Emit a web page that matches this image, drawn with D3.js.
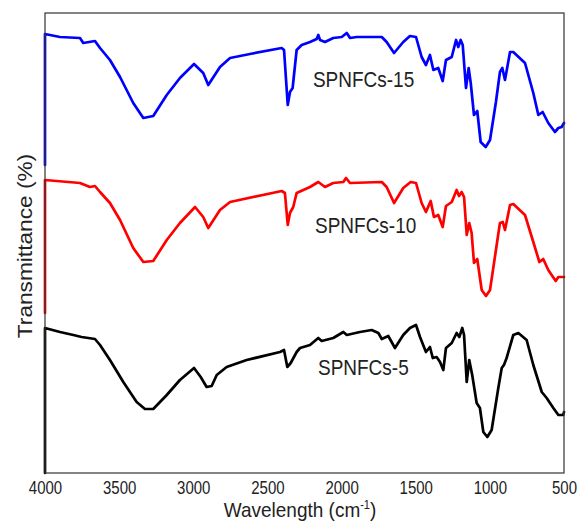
<!DOCTYPE html>
<html>
<head>
<meta charset="utf-8">
<script src="https://cdn.jsdelivr.net/npm/d3@7"></script>
<style>
  html, body { margin: 0; padding: 0; background: #fff; }
  svg { display: block; }
  text { font-family: Arial, "Liberation Sans", sans-serif; fill: #222; }
</style>
</head>
<body>
<svg id="chart" width="584" height="521"></svg>
<script>
// FTIR spectra of SPNFCs samples (stacked, arbitrary offsets)
const xTicks = [4000, 3500, 3000, 2500, 2000, 1500, 1000, 500];

const wn15 = [4000,4000,3899,3764,3742,3663,3629,3562,3494,3405,3337,3270,3179,3090,2995,2933,2899,2820,2752,2618,2404,2388,2363,2348,2330,2303,2269,2213,2168,2157,2145,2112,2056,1999,1965,1943,1898,1729,1696,1646,1584,1539,1498,1460,1431,1404,1381,1348,1318,1296,1257,1228,1213,1197,1183,1161,1143,1129,1107,1085,1062,1028,999,959,932,916,898,864,842,763,707,673,644,606,561,538,516,500];
const t15 = [30.8,43.9,43.6,43.5,43.0,43.2,42.5,41.3,39.6,37.0,35.5,35.7,37.8,39.5,40.9,40.0,38.8,40.6,41.5,41.9,42.5,42.3,36.8,38.1,38.5,42.3,42.8,43.1,43.4,43.8,43.3,43.1,43.5,43.6,44.0,43.5,43.6,43.6,43.1,42.0,43.1,43.7,43.6,41.6,40.8,41.8,40.3,40.5,39.2,41.3,41.6,43.3,42.6,43.3,42.8,38.5,40.5,39.0,35.8,36.2,33.1,32.6,33.3,37.1,40.1,40.5,39.3,42.1,42.1,41.0,38.0,35.8,36.1,35.0,34.1,34.5,34.6,35.0];

const wn10 = [4000,4000,3764,3697,3663,3629,3562,3494,3405,3337,3270,3179,3090,2988,2933,2899,2820,2752,2404,2382,2363,2348,2326,2303,2213,2157,2112,2056,1988,1970,1943,1729,1696,1646,1584,1534,1498,1460,1431,1399,1377,1348,1318,1296,1257,1224,1208,1190,1174,1156,1139,1123,1107,1085,1055,1026,999,959,932,913,898,864,842,763,707,666,640,606,556,538,500];
const t10 = [16.0,29.3,29.0,28.6,28.7,28.1,27.0,25.3,22.5,21.1,21.2,23.3,25.0,26.6,25.6,24.5,26.3,27.1,28.2,28.0,24.8,26.0,26.6,28.0,28.6,29.1,28.6,29.0,29.1,29.5,29.0,29.1,28.6,27.0,28.5,29.1,29.0,27.0,26.1,27.2,25.6,25.8,24.6,26.7,27.1,28.3,27.7,28.1,27.6,23.8,25.0,24.0,21.0,21.4,18.3,17.7,18.3,22.3,25.0,25.1,24.3,26.8,26.9,25.8,23.1,21.1,21.4,20.3,19.2,19.6,19.6];

const wn5 = [4000,4000,3899,3809,3753,3663,3629,3562,3472,3382,3326,3270,3179,3090,2995,2950,2910,2876,2842,2775,2640,2415,2388,2366,2343,2303,2280,2213,2157,2134,2056,1988,1965,1876,1797,1752,1729,1685,1640,1584,1539,1498,1471,1431,1404,1385,1359,1336,1314,1296,1257,1224,1206,1186,1174,1156,1139,1119,1089,1067,1044,1017,988,943,920,905,887,842,808,752,707,650,617,572,538,505,500];
const t5 = [0,14.5,14.1,13.8,13.6,13.4,12.8,11.3,9.1,7.1,6.4,6.4,7.8,9.3,10.5,9.6,8.6,8.7,9.8,10.6,11.3,12.1,12.3,10.6,11.0,12.1,12.5,12.8,13.5,13.2,13.5,14.1,13.8,14.1,14.3,14.0,13.4,13.7,12.5,13.8,14.5,14.8,13.6,12.1,12.6,11.5,11.6,11.1,10.3,12.5,13.0,14.0,13.6,14.5,13.8,9.1,11.3,9.8,7.0,6.5,4.1,3.6,4.3,8.5,10.5,10.8,11.5,13.8,14.0,13.3,10.8,8.1,7.5,6.5,5.8,5.8,6.1];

const seriesNames = ["SPNFCs-15", "SPNFCs-10", "SPNFCs-5"];
const seriesColors = ["#0000ff", "#ff0000", "#000000"];
const seriesWn = [wn15, wn10, wn5];
const seriesT = [t15, t10, t5];
// label anchors (wavenumber, transmittance) beside each trace
const labelWn = [2193, 2179, 2159];
const labelT = [38.6, 24.0, 9.8];

(function () {
  const svg = d3.select("#chart");
  const plotLeft = 45, plotRight = 564, plotTop = 13, plotBottom = 473;

  const x = d3.scaleLinear().domain([4000, 500]).range([plotLeft, plotRight]);
  const y = d3.scaleLinear().domain([0, 46]).range([plotBottom, plotTop]);

  // spectra
  const line = d3.line().x(d => x(d[0])).y(d => y(d[1]));
  seriesNames.forEach((name, i) => {
    svg.append("path")
      .datum(d3.zip(seriesWn[i], seriesT[i]))
      .attr("fill", "none")
      .attr("stroke", seriesColors[i])
      .attr("stroke-width", 2.7)
      .attr("stroke-linejoin", "round")
      .attr("stroke-linecap", "round")
      .attr("d", line);
  });

  // frame
  svg.append("rect")
    .attr("x", plotLeft).attr("y", plotTop)
    .attr("width", plotRight - plotLeft).attr("height", plotBottom - plotTop)
    .attr("fill", "none").attr("stroke", "#333").attr("stroke-width", 1.2);

  // bottom axis
  const xAxis = svg.append("g")
    .call(d3.axisBottom(x).tickValues(xTicks).tickSize(0).tickFormat(d3.format("d")));
  xAxis.select(".domain").remove();
  xAxis.selectAll("text")
    .attr("y", 0).attr("dy", null)
    .attr("transform", "translate(0,494) scale(1,1.18)")
    .style("font-size", "15px")
    .style("font-family", "Arial, 'Liberation Sans', sans-serif")
    .attr("fill", "#222");

  // axis titles
  const xt = svg.append("text")
    .attr("transform", "translate(300,517) scale(1,1.1)")
    .attr("text-anchor", "middle")
    .style("font-size", "19px");
  xt.append("tspan").text("Wavelength (cm");
  xt.append("tspan").attr("dy", -7).style("font-size", "11px").text("-1");
  xt.append("tspan").attr("dy", 7).text(")");

  svg.append("text")
    .attr("transform", "translate(32,246) rotate(-90) scale(1.08,1)")
    .attr("text-anchor", "middle")
    .style("font-size", "21px")
    .text("Transmittance (%)");

  // series labels
  seriesNames.forEach((name, i) => {
    svg.append("text")
      .attr("transform", `translate(${x(labelWn[i])},${y(labelT[i])}) scale(1,1.2)`)
      .style("font-size", "19px")
      .text(name);
  });
})();
</script>
</body>
</html>
